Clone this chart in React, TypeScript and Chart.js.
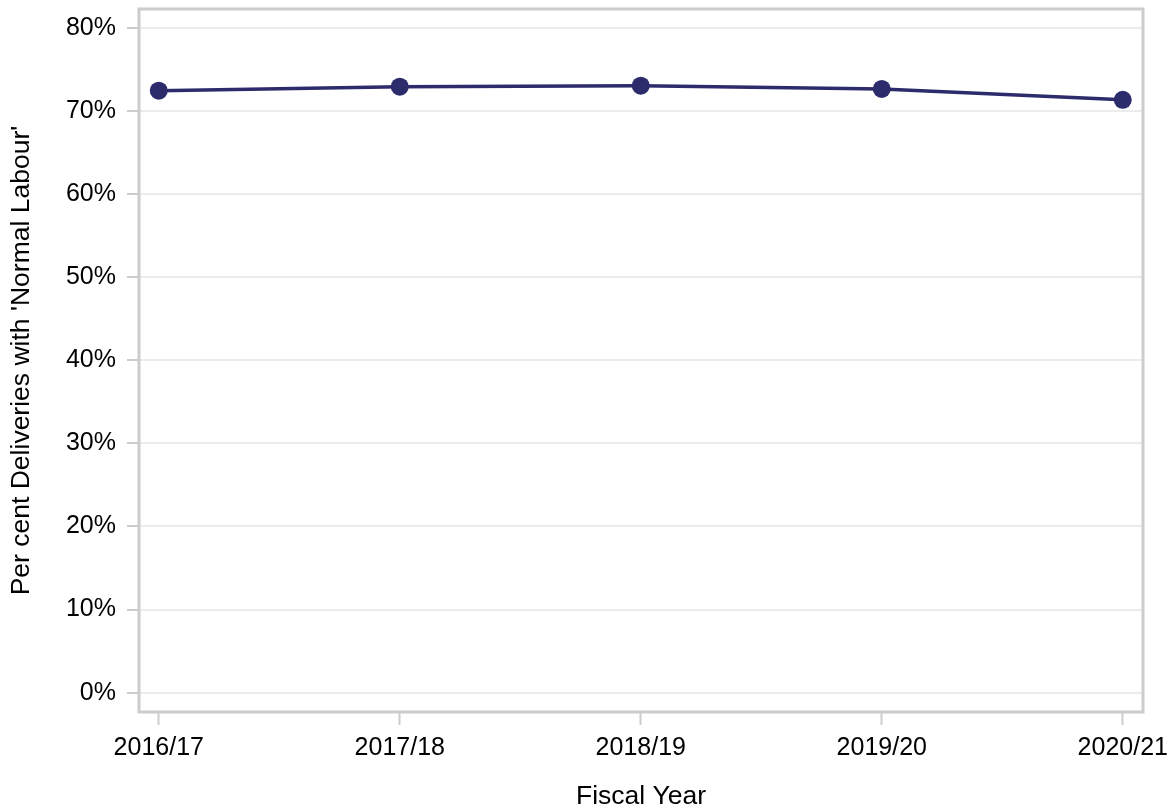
import React, { useEffect, useRef } from "react";
import { Chart, registerables } from "chart.js";

Chart.register(...registerables);

const categories = ["2016/17", "2017/18", "2018/19", "2019/20", "2020/21"];
const normalLabourPct = [72.43, 72.91, 73.03, 72.64, 71.32];
const yTickValues = [0, 10, 20, 30, 40, 50, 60, 70, 80];

const LINE_COLOR = "#2c2b6b";
const FONT = "'Liberation Sans', Arial, sans-serif";

const framePlugin = {
  id: "frame",
  beforeDatasetsDraw(chart: any) {
    const { ctx, chartArea } = chart;
    ctx.save();
    ctx.strokeStyle = "#cccccc";
    ctx.lineWidth = 3;
    ctx.strokeRect(
      chartArea.left,
      chartArea.top,
      chartArea.right - chartArea.left,
      chartArea.bottom - chartArea.top
    );
    ctx.restore();
  },
};

export default function App() {
  const canvasRef = useRef<HTMLCanvasElement | null>(null);

  useEffect(() => {
    document.body.style.margin = "0";
    const canvas = canvasRef.current;
    if (!canvas) return;
    const chart = new Chart(canvas, {
      type: "line",
      data: {
        datasets: [
          {
            label: "Per cent Deliveries with 'Normal Labour'",
            data: normalLabourPct.map((v, i) => ({ x: i, y: v })),
            borderColor: LINE_COLOR,
            backgroundColor: LINE_COLOR,
            borderWidth: 3.5,
            pointRadius: 9,
            pointHoverRadius: 9,
            pointBorderWidth: 0,
            tension: 0,
          },
        ],
      },
      options: {
        animation: false,
        responsive: false,
        maintainAspectRatio: false,
        layout: { padding: { top: 8, right: 30, bottom: 0, left: 0 } },
        plugins: {
          legend: { display: false },
          tooltip: { enabled: false },
        },
        scales: {
          x: {
            type: "linear",
            min: -0.082,
            max: 4.084,
            afterBuildTicks: (scale: any) => {
              scale.ticks = categories.map((_, i) => ({ value: i }));
            },
            afterFit: (scale: any) => {
              scale.height = 98;
              scale.paddingLeft = 0;
              scale.paddingRight = 0;
            },
            ticks: {
              autoSkip: false,
              maxRotation: 0,
              padding: 8.5,
              color: "#000000",
              font: { family: FONT, size: 25 },
              callback: (v: any) => categories[v as number] ?? "",
            },
            grid: {
              drawOnChartArea: false,
              drawTicks: true,
              tickLength: 13,
              tickColor: "#cccccc",
              tickWidth: 2,
            },
            border: { display: false },
            title: {
              display: true,
              text: "Fiscal Year",
              color: "#000000",
              font: { family: FONT, size: 26.5, lineHeight: 1.0 },
              padding: { top: 0, bottom: 0 },
            },
          },
          y: {
            type: "linear",
            min: -2.32,
            max: 82.25,
            afterBuildTicks: (scale: any) => {
              scale.ticks = yTickValues.map((v) => ({ value: v }));
            },
            afterFit: (scale: any) => {
              scale.width = 139;
              scale.paddingTop = 0;
              scale.paddingBottom = 0;
            },
            ticks: {
              padding: 11,
              color: "#000000",
              font: { family: FONT, size: 25 },
              callback: (v: any) => `${v}%`,
            },
            grid: {
              color: "#ebebeb",
              lineWidth: 2,
              drawTicks: true,
              tickLength: 12,
              tickColor: "#cccccc",
              tickWidth: 2,
            },
            border: { display: false },
            title: {
              display: true,
              text: "Per cent Deliveries with 'Normal Labour'",
              color: "#000000",
              font: { family: FONT, size: 26.5, lineHeight: 1.0 },
              padding: { top: 8, bottom: 0 },
            },
          },
        },
      },
      plugins: [framePlugin],
    });
    return () => chart.destroy();
  }, []);

  return (
    <div style={{ width: 1173, height: 810 }}>
      <canvas ref={canvasRef} width={1173} height={810} style={{ display: "block" }} />
    </div>
  );
}
